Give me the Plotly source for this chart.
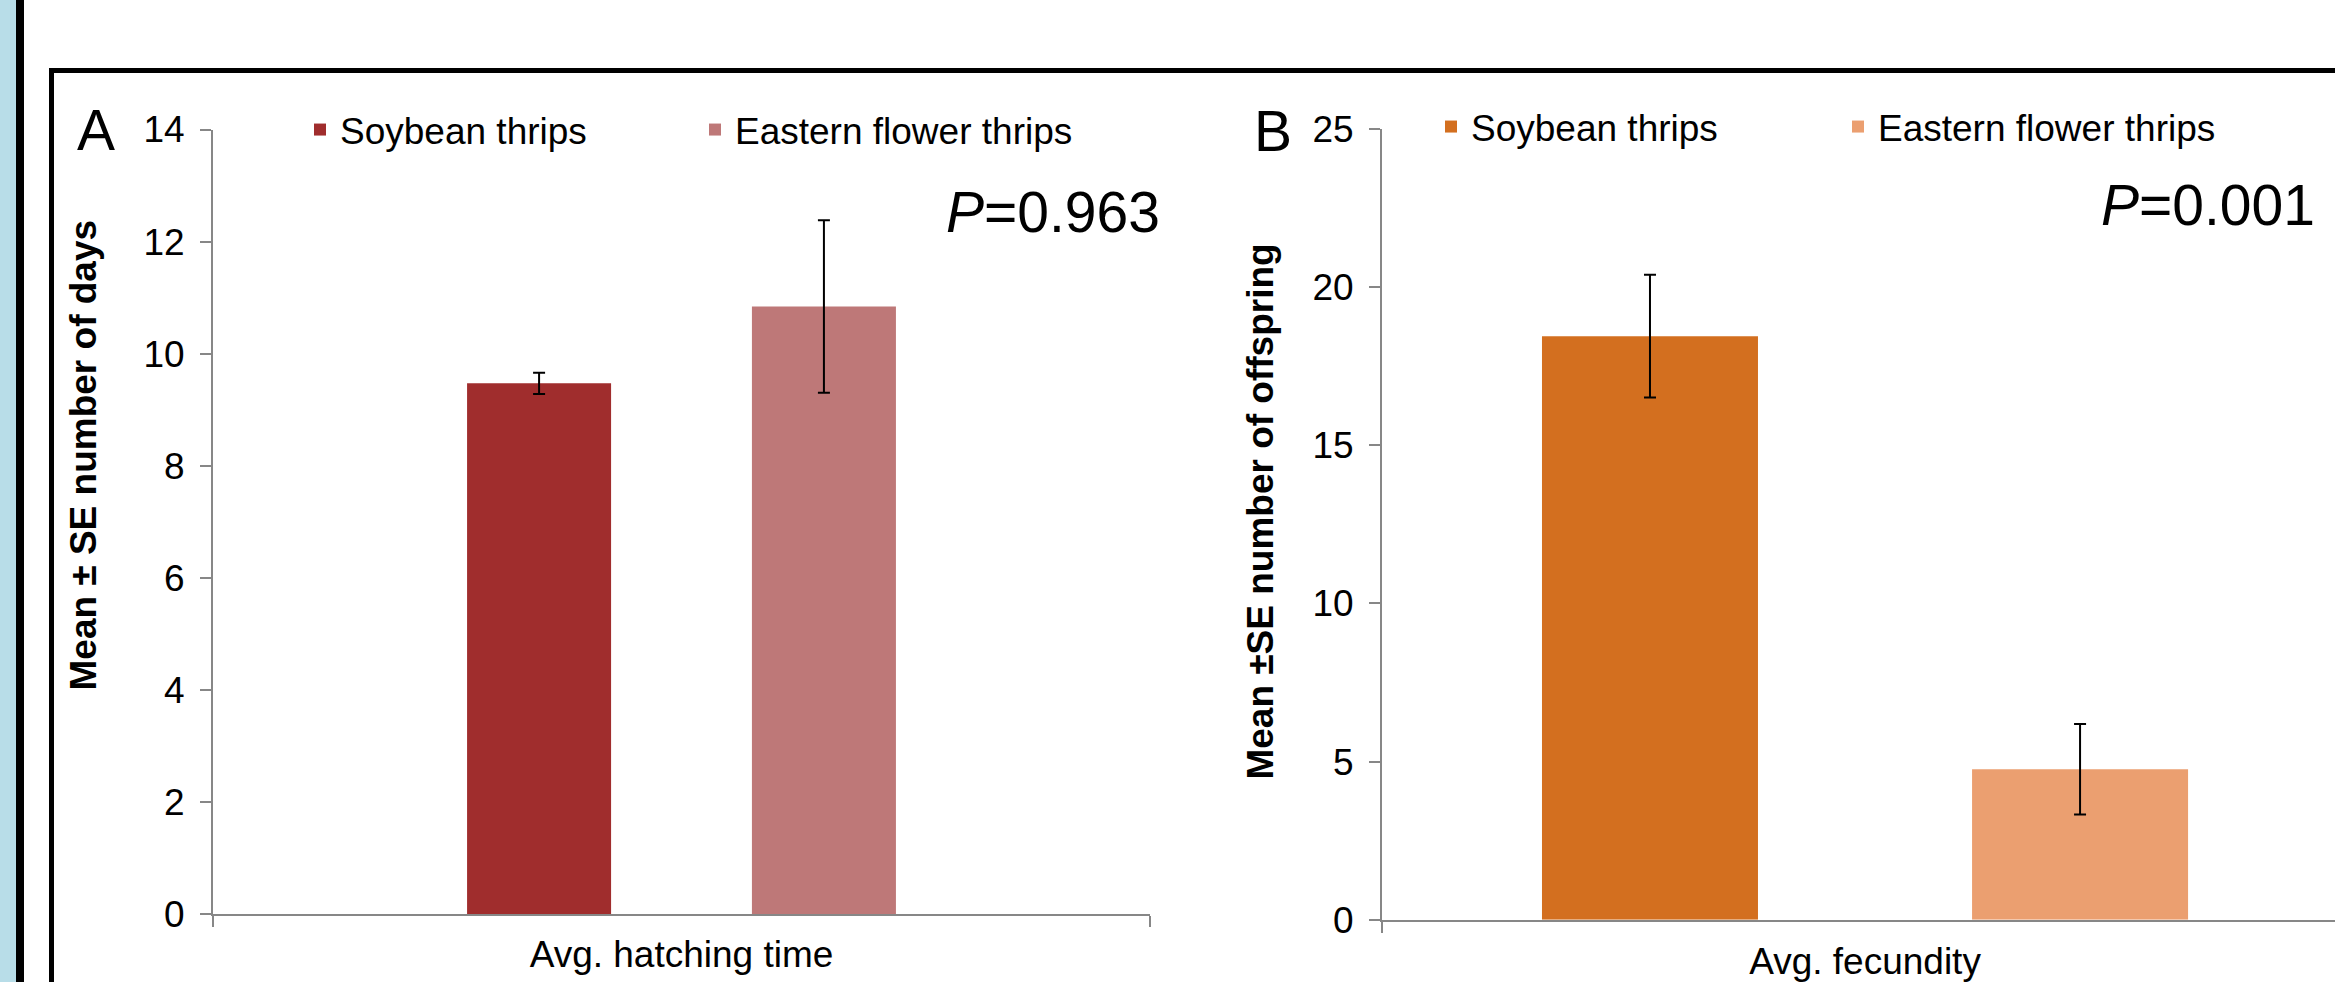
import plotly.graph_objects as go

W, H = 2335, 982

# ---- data ----
series = ["Soybean thrips", "Eastern flower thrips"]
categories_a = ["Avg. hatching time"]
categories_b = ["Avg. fecundity"]
hatch_mean = [9.47, 10.84]
hatch_se = [0.19, 1.54]
fec_mean = [18.45, 4.76]
fec_se = [1.94, 1.43]
ticks_a = [0, 2, 4, 6, 8, 10, 12, 14]
ticks_b = [0, 5, 10, 15, 20, 25]
p_a = "0.963"
p_b = "0.001"

# ---- style ----
colors_a = ["#A02D2D", "#BE7878"]
colors_b = ["#D36F1F", "#EB9F70"]
FONT = "Liberation Sans, Arial, sans-serif"
AX = "#878787"


def px(x):
    return x / W


def py(y):
    return 1 - y / H


fig = go.Figure()

# panel A bars
wa = 0.1537
centers_a = [-0.152, 0.152]
for i, name in enumerate(series):
    fig.add_trace(go.Bar(
        x=categories_a, y=[hatch_mean[i]], name=name,
        marker=dict(color=colors_a[i], line=dict(width=0)),
        width=wa, offset=centers_a[i] - wa / 2,
        error_y=dict(type="data", array=[hatch_se[i]], color="black",
                     thickness=2, width=6),
        xaxis="x", yaxis="y", legend="legend",
    ))

# panel B bars
wb = 0.2236
centers_b = [-0.2226, 0.2226]
for i, name in enumerate(series):
    fig.add_trace(go.Bar(
        x=categories_b, y=[fec_mean[i]], name=name,
        marker=dict(color=colors_b[i], line=dict(width=0)),
        width=wb, offset=centers_b[i] - wb / 2,
        error_y=dict(type="data", array=[fec_se[i]], color="black",
                     thickness=2, width=6),
        xaxis="x2", yaxis="y2", legend="legend2",
    ))

axis_common = dict(showline=True, linecolor=AX, linewidth=2, ticks="outside",
                   ticklen=11, tickwidth=2, tickcolor=AX, showgrid=False,
                   zeroline=False, automargin=False,
                   tickfont=dict(size=37, color="black", family=FONT))

fig.update_layout(
    width=W, height=H,
    margin=dict(l=0, r=0, t=0, b=0, autoexpand=False),
    paper_bgcolor="white", plot_bgcolor="white",
    font=dict(family=FONT, color="black"),
    barmode="overlay",
    xaxis=dict(domain=[px(213), px(1150)], type="category", range=[-0.5, 0.5],
               tickson="boundaries", anchor="y", ticklabelstandoff=7, **axis_common),
    yaxis=dict(domain=[py(914), py(129.5)], range=[0, 14], tickvals=ticks_a,
               anchor="x", ticklabelstandoff=8, **axis_common),
    xaxis2=dict(domain=[px(1382), 1.0], type="category", range=[-0.5, 0.4865],
                tickson="boundaries", anchor="y2", ticklabelstandoff=8, **axis_common),
    yaxis2=dict(domain=[py(919.7), py(129)], range=[0, 25], tickvals=ticks_b,
                anchor="x2", ticklabelstandoff=8, **axis_common),
    legend=dict(orientation="h", x=px(300), xanchor="left", y=py(130), yanchor="middle",
                font=dict(size=37, color="black", family=FONT), bgcolor="rgba(0,0,0,0)",
                entrywidthmode="pixels", entrywidth=350, traceorder="normal"),
    legend2=dict(orientation="h", x=px(1431), xanchor="left", y=py(127), yanchor="middle",
                 font=dict(size=37, color="black", family=FONT), bgcolor="rgba(0,0,0,0)",
                 entrywidthmode="pixels", entrywidth=362, traceorder="normal"),
)

ann = [
    dict(text="A", x=px(96), y=py(130), font=dict(size=57)),
    dict(text="B", x=px(1273), y=py(131), font=dict(size=57)),
    dict(text="<i>P</i>=" + p_a, x=px(1053), y=py(211.7), font=dict(size=57)),
    dict(text="<i>P</i>=" + p_b, x=px(2207.5), y=py(204.7), font=dict(size=57)),
    dict(text="<b>Mean ± SE number of days</b>", x=px(83), y=py(455.5),
         textangle=-90, font=dict(size=37)),
    dict(text="<b>Mean ±SE number of offspring</b>", x=px(1261), y=py(511.6),
         textangle=-90, font=dict(size=37)),
]
for a in ann:
    a.update(xref="paper", yref="paper", showarrow=False, xanchor="center",
             yanchor="middle")
    a["font"].update(family=FONT, color="black")
fig.update_layout(annotations=ann)

shapes = [
    dict(x0=0, x1=px(16), y0=0, y1=1, fillcolor="#B8DDE8"),
    dict(x0=px(16), x1=px(24), y0=0, y1=1, fillcolor="black"),
    dict(x0=px(49), x1=px(54), y0=0, y1=py(68), fillcolor="black"),
    dict(x0=px(49), x1=1, y0=py(73), y1=py(68), fillcolor="black"),
]
for s in shapes:
    s.update(type="rect", xref="paper", yref="paper", line=dict(width=0))
fig.update_layout(shapes=shapes)

fig.write_html("out.html", config={"displayModeBar": False},
               post_script="document.body.style.margin='0';document.body.style.overflow='hidden';")
